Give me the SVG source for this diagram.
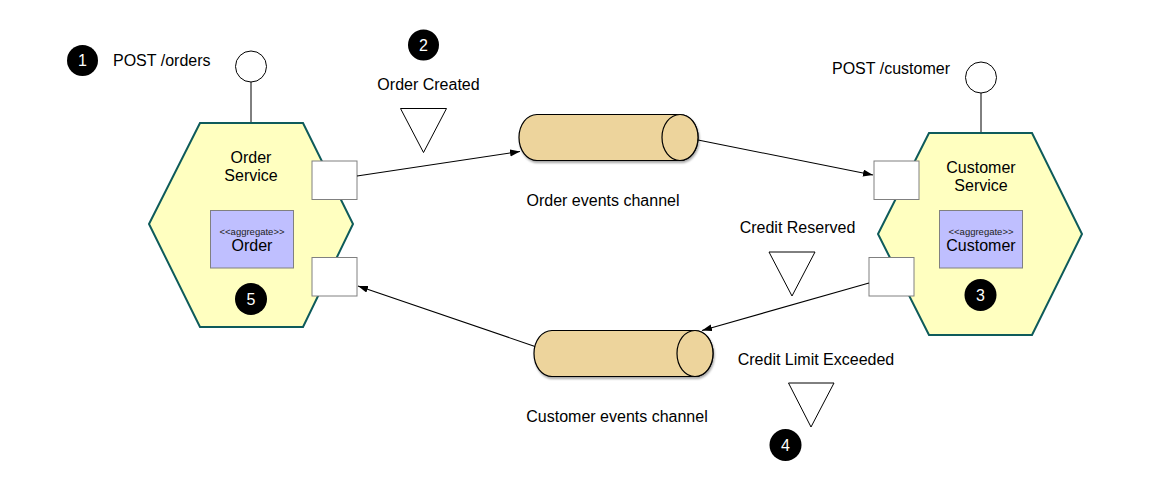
<svg xmlns="http://www.w3.org/2000/svg" width="1150" height="488" viewBox="0 0 1150 488">
<style>
text{font-family:"Liberation Sans",Arial,sans-serif;fill:#000}
.lbl{font-size:16px}
.mid{text-anchor:middle}
.hex{fill:#ffffc0;stroke:#0e5b5b;stroke-width:2}
.port{fill:#fff;stroke:#808080;stroke-width:1}
.agg{fill:#bfbfff;stroke:#808080;stroke-width:1}
.small{font-size:9.5px;fill:#222}
.num{fill:#000}
.numt{font-size:16px;fill:#fff;text-anchor:middle}
.api{fill:#fff;stroke:#000;stroke-width:1}
.cyl{fill:#edd49c;stroke:#000;stroke-width:1.2}
.tri{fill:#fff;stroke:#000;stroke-width:1}
.conn{stroke:#000;stroke-width:1.1;fill:none;marker-end:url(#arr)}
</style>
<defs>
<marker id="arr" markerUnits="userSpaceOnUse" markerWidth="11" markerHeight="8" refX="10" refY="3.5" orient="auto">
<path d="M0,0 L10,3.5 L0,7 z" fill="#000"/>
</marker>
<filter id="sh" x="-10%" y="-10%" width="130%" height="140%">
<feDropShadow dx="1" dy="2" stdDeviation="1.2" flood-color="#000" flood-opacity="0.35"/>
</filter>
</defs>
<rect width="1150" height="488" fill="#fff"/>

<g id="step1">
<circle class="num" cx="82.5" cy="60.5" r="15.5"/>
<text class="numt" x="82.5" y="66">1</text>
<text class="lbl" x="113" y="66">POST /orders</text>
</g>

<g id="order-service">
<line x1="251" y1="82" x2="251" y2="123" stroke="#000" stroke-width="1"/>
<circle class="api" cx="251" cy="66.5" r="15.5"/>
<polygon class="hex" points="200,123 303,123 353,224 303,327 200,327 149,224"/>
<text class="lbl mid" x="251" y="163">Order</text>
<text class="lbl mid" x="251" y="181">Service</text>
<rect class="agg" x="210.5" y="210.5" width="83" height="57.5"/>
<text class="small mid" x="252" y="235">&lt;&lt;aggregate&gt;&gt;</text>
<text class="lbl mid" x="252" y="251">Order</text>
<circle class="num" cx="251" cy="299" r="16"/>
<text class="numt" x="251" y="305">5</text>
<rect class="port" x="312" y="161" width="45" height="38.5"/>
<rect class="port" x="312" y="257.5" width="45" height="38.5"/>
</g>

<g id="step2">
<circle class="num" cx="423.5" cy="45" r="15.5"/>
<text class="numt" x="423.5" y="51">2</text>
<text class="lbl mid" x="428.5" y="90">Order Created</text>
<polygon class="tri" points="400.5,108.5 446.5,108.5 423.5,152.5"/>
</g>

<g id="order-events-channel">
<path class="cyl" filter="url(#sh)" d="M537,114.5 L680,114.5 A18,23 0 0 1 680,160.5 L537,160.5 A18,23 0 0 1 537,114.5 Z"/>
<ellipse class="cyl" cx="680" cy="137.5" rx="18" ry="23"/>
<text class="lbl mid" x="603" y="206">Order events channel</text>
</g>

<g id="customer-service">
<line x1="981" y1="93" x2="981" y2="133" stroke="#000" stroke-width="1"/>
<circle class="api" cx="981" cy="77.5" r="15.5"/>
<text class="lbl" x="832" y="74">POST /customer</text>
<polygon class="hex" points="929,133 1032,133 1082,234 1032,335 929,335 878,234"/>
<text class="lbl mid" x="981" y="173">Customer</text>
<text class="lbl mid" x="981" y="191">Service</text>
<rect class="agg" x="939.5" y="210.5" width="83" height="57.5"/>
<text class="small mid" x="981" y="235">&lt;&lt;aggregate&gt;&gt;</text>
<text class="lbl mid" x="981" y="251">Customer</text>
<circle class="num" cx="980.5" cy="295" r="16"/>
<text class="numt" x="980.5" y="301">3</text>
<rect class="port" x="874" y="161" width="45" height="38.5"/>
<rect class="port" x="869" y="257.5" width="45" height="38.5"/>
</g>

<g id="credit-reserved">
<text class="lbl mid" x="797.5" y="233">Credit Reserved</text>
<polygon class="tri" points="769,252 815,252 792,296"/>
</g>

<g id="customer-events-channel">
<path class="cyl" filter="url(#sh)" d="M552,330.5 L695,330.5 A18,23 0 0 1 695,376.5 L552,376.5 A18,23 0 0 1 552,330.5 Z"/>
<ellipse class="cyl" cx="695" cy="353.5" rx="18" ry="23"/>
<text class="lbl mid" x="617" y="422">Customer events channel</text>
</g>

<g id="credit-limit-exceeded">
<text class="lbl mid" x="816" y="365">Credit Limit Exceeded</text>
<polygon class="tri" points="788.5,383 834,383 811,427"/>
<circle class="num" cx="785.5" cy="445" r="16"/>
<text class="numt" x="785.5" y="451">4</text>
</g>

<g id="connectors">
<line class="conn" x1="357" y1="176" x2="520" y2="151.5"/>
<line class="conn" x1="698" y1="140" x2="873" y2="175"/>
<line class="conn" x1="869" y1="283" x2="702" y2="330.5"/>
<line class="conn" x1="535" y1="346.5" x2="358" y2="286"/>
</g>
</svg>
